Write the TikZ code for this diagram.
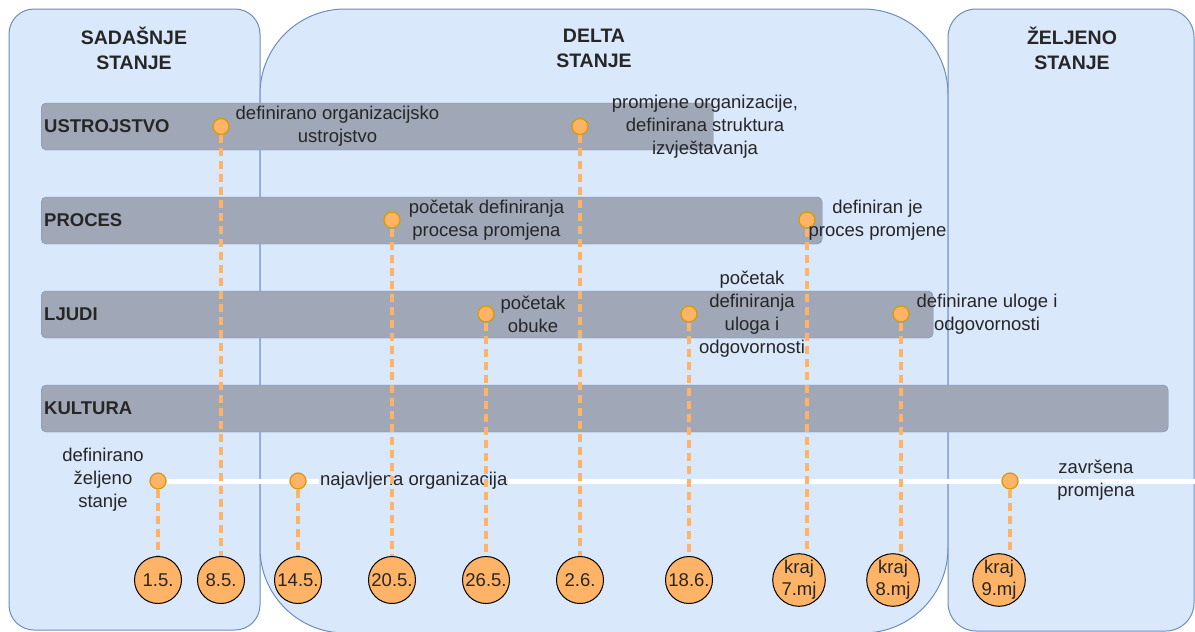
\documentclass[tikz,border=0pt]{standalone}
\usepackage{fontspec}
\setmainfont{Liberation Sans}
\usepackage{color}
\usetikzlibrary{positioning}

\definecolor{panelfill}{HTML}{DAE8FC}
\definecolor{panelline}{HTML}{6C8EBF}
\definecolor{barfill}{HTML}{A0A8B8}
\definecolor{dotfill}{HTML}{FFB366}
\definecolor{dotline}{HTML}{D79B00}
\definecolor{txt}{HTML}{262626}

\begin{document}
\begin{tikzpicture}[x=1pt,y=-1pt]

      \tikzstyle{panel}=[draw=panelline,fill=panelfill,line width=1pt]
      \tikzstyle{title}=[font=\fontsize{19.5}{25}\selectfont\bfseries,text=txt,align=center]
      \tikzstyle{bar}=[draw=panelline,fill=barfill,rounded corners=5pt,minimum height=47pt,inner sep=3pt,anchor=west,align=left,font=\fontsize{18.5}{23}\selectfont\bfseries,text=txt]
      \tikzstyle{dot}=[circle,draw=dotline,fill=dotfill,line width=1.2pt,minimum size=16pt,inner sep=0pt]
      \tikzstyle{date}=[circle,draw=black,fill=dotfill,line width=1pt,minimum size=47pt,inner sep=0pt,align=center,font=\fontsize{18.5}{22}\selectfont,text=txt]
      \tikzstyle{note}=[align=center,font=\fontsize{18.5}{23}\selectfont,text=txt,inner sep=1pt]
      \tikzstyle{dateline}=[color=dotfill,line width=3.2pt,dash pattern=on 8pt off 5pt]
      \tikzstyle{timeline}=[draw=white,line width=5pt]

      \useasboundingbox (0,0) rectangle (1195,632);

      % three states
      \draw[panel,rounded corners=25pt] (9,9) rectangle (260,630);
      \draw[panel,rounded corners=85pt] (260,9) rectangle (948,633);
      \draw[panel,rounded corners=28pt] (948,9) rectangle (1194,631);

      \node[title] (sadT) at (134,48) {SADAŠNJE\\STANJE};
      \node[title] (delT) at (594,48) {DELTA\\STANJE};
      \node[title] (zelT) at (1072,48) {ŽELJENO\\STANJE};

      % bars
      \node[bar,text width=666pt] (ustr) at (41,126.5) {USTROJSTVO};
      \node[bar,text width=775pt] (proc) at (41,220.5) {PROCES};
      \node[bar,text width=886pt] (ljudi) at (41,314.5) {LJUDI};
      \node[bar,text width=1121pt] (kult) at (41,408.5) {KULTURA};

      % milestones
      \node[dot] (u1) at (221,126.5) {};
      \node[dot] (u2) at (580,126.5) {};
      \node[dot] (p1) at (392,220) {};
      \node[dot] (p2) at (807,220) {};
      \node[dot] (l1) at (486,314) {};
      \node[dot] (l2) at (689,314) {};
      \node[dot] (l3) at (901,314) {};
      \node[dot] (t1) at (158,481) {};
      \node[dot] (t2) at (298,481) {};
      \node[dot] (t3) at (1010,481) {};
      \coordinate (tend) at (1195,481);

      \draw[timeline] (t1) -- (t2) -- (t3) -- (tend);
      \node[note,fill=panelfill,anchor=west] (t2n) at (319,481) {najavljena organizacija};

      % dates
      \node[date] (c1) at (158,580) {1.5.};
      \node[date] (c2) at (221,580) {8.5.};
      \node[date] (c3) at (298,580) {14.5.};
      \node[date] (c4) at (392,580) {20.5.};
      \node[date] (c5) at (486,580) {26.5.};
      \node[date] (c6) at (580,580) {2.6.};
      \node[date] (c7) at (689,580) {18.6.};
      \node[date] (c8) at (799,580) {kraj\\7.mj};
      \node[date] (c9) at (893,580) {kraj\\8.mj};
      \node[date] (c10) at (999,580) {kraj\\9.mj};

      \draw [dateline] (t1.south) -- (c1.north);
      \draw [dateline] (u1.south) -- (c2.north);
      \draw [dateline] (t2.south) -- (c3.north);
      \draw [dateline] (p1.south) -- (c4.north);
      \draw [dateline] (l1.south) -- (c5.north);
      \draw [dateline] (u2.south) -- (c6.north);
      \draw [dateline] (l2.south) -- (c7.north);
      \draw [dateline] (p2.south) -- (p2 |- c8.north);
      \draw [dateline] (l3.south) -- (l3 |- c9.north);
      \draw [dateline] (t3.south) -- (t3 |- c10.north);

      % milestone texts
      \node[note] (u1n) at (337.5,126.5) {definirano organizacijsko\\ustrojstvo};
      \node[note] (u2n) at (705,127) {promjene organizacije,\\definirana struktura\\izvještavanja};
      \node[note] (p1n) at (486.5,220.5) {početak definiranja\\procesa promjena};
      \node[note] (p2n) at (877.5,220.5) {definiran je\\proces promjene};
      \node[note] (l1n) at (533,314.5) {početak\\obuke};
      \node[note] (l2n) at (752,314) {početak\\definiranja\\uloga i\\odgovornosti};
      \node[note] (l3n) at (987,314.5) {definirane uloge i\\odgovornosti};
      \node[note] (t1n) at (103,479.5) {definirano\\željeno\\stanje};
      \node[note] (t3n) at (1096,480) {završena\\promjena};
\end{tikzpicture}
\end{document}
